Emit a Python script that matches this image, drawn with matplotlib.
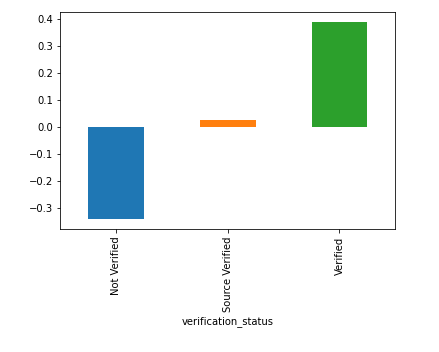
import matplotlib
matplotlib.use("Agg")
import matplotlib.pyplot as plt

categories = ["Not Verified", "Source Verified", "Verified"]
values = [-0.342, 0.026, 0.387]
colors = ["#1f77b4", "#ff7f0e", "#2ca02c"]

W, H = 439, 352
fig = plt.figure(figsize=(W / 72, H / 72), dpi=72)
ax = fig.add_axes([60.3 / W, 1 - 229.3 / H, 335 / W, 217 / H])
x = list(range(len(categories)))
ax.bar(x, values, width=0.5, color=colors)
ax.set_xlim(-0.5, 2.5)
ax.set_xticks(x)
ax.set_xticklabels(categories, rotation=90)
ax.set_xlabel("verification_status")
fig.savefig("out.png", dpi=72, facecolor="white")
